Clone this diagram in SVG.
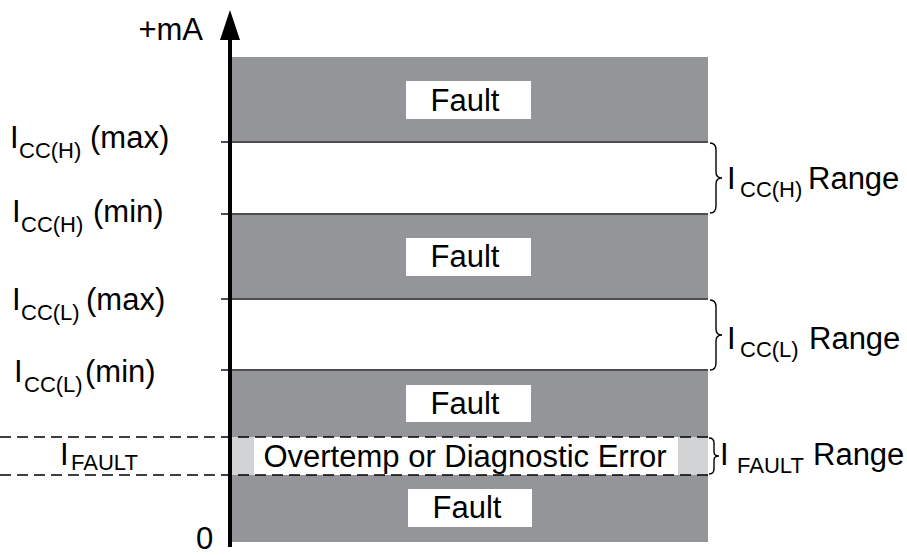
<svg xmlns="http://www.w3.org/2000/svg" width="907" height="556" viewBox="0 0 907 556">
<style>
  text { font-family: "Liberation Sans", Arial, sans-serif; font-size: 31px; fill: #000; }
  .sub { font-size: 22px; }
  .band { fill: #939598; }
  .box { fill: #ffffff; }
  .lim { stroke: #4d4d4f; stroke-width: 2; fill: none; }
  .dash { stroke: #000; stroke-width: 1.6; stroke-dasharray: 11 6; fill: none; }
  .brace { stroke: #000; stroke-width: 1.4; fill: none; }
  .c { text-anchor: middle; }
</style>
<rect width="907" height="556" fill="#ffffff"/>

<g id="bands">
  <rect class="band" x="232" y="57" width="476" height="485"/>
  <rect class="box" x="232" y="142" width="476" height="72"/>
  <rect class="box" x="232" y="299" width="476" height="71"/>
  <rect x="232" y="437" width="476" height="38" fill="#d1d2d4"/>
</g>

<g id="fault1"><rect class="box" x="406" y="81" width="125" height="38"/><text class="c" x="465" y="111">Fault</text></g>
<g id="fault2"><rect class="box" x="406" y="238" width="125" height="38"/><text class="c" x="465" y="267">Fault</text></g>
<g id="fault3"><rect class="box" x="406" y="385" width="125" height="37"/><text class="c" x="465" y="414">Fault</text></g>
<g id="overtemp"><rect class="box" x="254" y="437" width="424" height="38"/><text class="c" x="465" y="467" font-size="31.5">Overtemp or Diagnostic Error</text></g>
<g id="fault4"><rect class="box" x="408" y="489" width="124" height="38"/><text class="c" x="467" y="518">Fault</text></g>

<g id="connectors">
  <line class="lim" x1="221" y1="142" x2="708" y2="142"/>
  <line class="lim" x1="221" y1="214" x2="708" y2="214"/>
  <line class="lim" x1="221" y1="299" x2="708" y2="299"/>
  <line class="lim" x1="221" y1="370" x2="708" y2="370"/>
  <line class="dash" x1="0" y1="437" x2="712" y2="437"/>
  <line class="dash" x1="0" y1="475" x2="712" y2="475"/>
  <path class="brace" d="M710,143 Q716,143 716,150 L716,172 Q716,178 722,178 Q716,178 716,184 L716,206 Q716,213 710,213"/>
  <path class="brace" d="M710,300 Q716,300 716,307 L716,329 Q716,335 722,335 Q716,335 716,341 L716,363 Q716,370 710,370"/>
  <path class="brace" d="M709,438 Q714,438 714,443 L714,452 Q714,456 719,456 Q714,456 714,460 L714,469 Q714,474 709,474"/>
</g>

<g id="axis">
  <line x1="230" y1="36" x2="230" y2="547" stroke="#000" stroke-width="4"/>
  <polygon points="230,10 220,40 240,40" fill="#000"/>
  <text x="203" y="40" text-anchor="end">+mA</text>
  <text x="196" y="549">0</text>
</g>

<g id="left-labels">
  <text x="10" y="148">I<tspan class="sub" x="19" y="158">CC(H)</tspan><tspan x="90" y="148">(max)</tspan></text>
  <text x="12" y="222">I<tspan class="sub" x="21" y="232">CC(H)</tspan><tspan x="93" y="222">(min)</tspan></text>
  <text x="12" y="310">I<tspan class="sub" x="21" y="320">CC(L)</tspan><tspan x="86" y="310">(max)</tspan></text>
  <text x="14" y="382">I<tspan class="sub" x="24" y="392">CC(L)</tspan><tspan x="85" y="382">(min)</tspan></text>
  <text x="60" y="465">I<tspan class="sub" x="71" y="470">FAULT</tspan></text>
</g>

<g id="right-labels">
  <text x="727" y="189">I<tspan class="sub" x="740" y="197">CC(H)</tspan><tspan x="808" y="189">Range</tspan></text>
  <text x="727" y="349">I<tspan class="sub" x="740" y="357">CC(L)</tspan><tspan x="809" y="349">Range</tspan></text>
  <text x="720" y="465">I<tspan class="sub" x="737" y="473">FAULT</tspan><tspan x="813" y="465">Range</tspan></text>
</g>
</svg>
